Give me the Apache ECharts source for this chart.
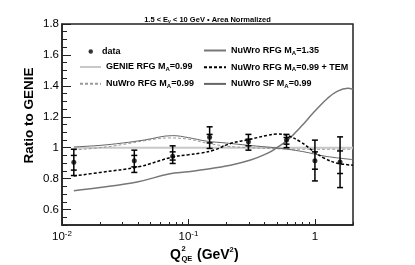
<!DOCTYPE html>
<html>
<head>
<meta charset="utf-8">
<script src="https://cdn.jsdelivr.net/npm/echarts@6/dist/echarts.min.js"></script>
<style>html,body{margin:0;padding:0;background:#fff}#c{width:415px;height:265px}</style>
</head>
<body>
<div id="c"></div>
<script>
// ---- data ----
var qData    = [0.0124, 0.0373, 0.075, 0.147, 0.298, 0.596, 1.0, 1.58];
var ratio    = [0.906, 0.915, 0.945, 1.068, 1.038, 1.049, 0.915, 0.908];
var totLow   = [0.82, 0.84, 0.898, 0.995, 0.984, 1.0, 0.785, 0.742];
var totHigh  = [0.99, 0.984, 1.012, 1.135, 1.086, 1.086, 1.049, 1.07];
var statLow  = [0.855, 0.876, 0.92, 1.031, 1.012, 1.023, 0.861, 0.833];
var statHigh = [0.95, 0.95, 0.973, 1.086, 1.055, 1.066, 0.973, 0.979];

var genieQ = [0.0124, 2.0];
var genieR = [1.0, 1.0];

var rfgQ = [0.0124, 0.02, 0.03, 0.045, 0.07, 0.1, 0.145, 0.2, 0.3, 0.5, 0.8, 1.2, 2.0];
var rfgR = [0.985, 1.0, 1.02, 1.045, 1.063, 1.055, 1.027, 1.01, 1.0, 0.993, 0.99, 0.99, 0.99];

var sfQ = [0.0124, 0.02, 0.03, 0.045, 0.075, 0.1, 0.14, 0.2, 0.3, 0.5, 0.8, 1.2, 2.0];
var sfR = [1.005, 1.015, 1.03, 1.05, 1.078, 1.065, 1.042, 1.03, 1.015, 0.998, 0.975, 0.945, 0.923];

var ma135Q = [0.0124, 0.02, 0.04, 0.07, 0.1, 0.1245, 0.215, 0.31, 0.42, 0.49, 0.607, 0.774, 0.987, 1.26, 1.51, 1.82, 2.0];
var ma135R = [0.722, 0.742, 0.78, 0.83, 0.844, 0.855, 0.887, 0.92, 0.963, 0.995, 1.049, 1.135, 1.232, 1.32, 1.366, 1.384, 1.377];

var temQ = [0.0124, 0.02, 0.04, 0.075, 0.1, 0.1245, 0.16, 0.215, 0.31, 0.42, 0.5, 0.6, 0.77, 0.98, 1.2, 1.5, 2.0];
var temR = [0.817, 0.84, 0.876, 0.94, 0.955, 0.965, 0.985, 1.027, 1.055, 1.08, 1.088, 1.08, 1.038, 0.975, 0.93, 0.9, 0.887];

var yMajor = [0.6, 0.8, 1.0, 1.2, 1.4, 1.6, 1.8];
var xMajor = [0.01, 0.1, 1];
var xMinor = [0.02,0.03,0.04,0.05,0.06,0.07,0.08,0.09,0.2,0.3,0.4,0.5,0.6,0.7,0.8,0.9,2];
var xLabels = {'0.01': '10{sup|-2}', '0.1': '10{sup|-1}', '1': '1'};

// ---- build ----
function pairs(xs, ys){ return xs.map(function(x,i){ return [x, ys[i]]; }); }
var errData = qData.map(function(q,i){ return [q, totLow[i], totHigh[i], statLow[i], statHigh[i]]; });

var FONT = 'Liberation Sans, Arial, Helvetica, sans-serif';
var legendText = {fontFamily: FONT, fontWeight: 'bold', fontSize: 9, color: '#000', lineHeight: 12,
  rich: {s: {fontFamily: FONT, fontWeight: 'bold', fontSize: 6, color: '#000', padding: [5, 0, 0, 0]}}};
function legendFmt(name){ return name.replace('M_A', 'M{s|A}'); }

var chart = echarts.init(document.getElementById('c'), null, {renderer: 'canvas'});
var grid = {left: 62, top: 24, width: 291, height: 201, show: true, borderColor: '#222', borderWidth: 1.5, backgroundColor: 'transparent'};

function xAxisBase(){
  return {type: 'log', logBase: 10, min: 0.01, max: 2, gridIndex: 0,
    axisLine: {show: false}, splitLine: {show: false}, minorTick: {show: false}};
}
var xa0 = xAxisBase();
xa0.axisTick = {show: true, inside: true, length: 6, lineStyle: {color: '#222', width: 1}, customValues: xMajor};
xa0.axisLabel = {show: true, customValues: xMajor, margin: 5, fontFamily: FONT, fontSize: 11.5, color: '#000', lineHeight: 14,
  formatter: function(v){ var k = String(+v.toPrecision(3)); return xLabels[k] !== undefined ? xLabels[k] : ''; },
  rich: {sup: {fontFamily: FONT, fontSize: 8, color: '#000', verticalAlign: 'top', lineHeight: 8, padding: [0,0,6,0]}}};
xa0.axisLine = {show: true, lineStyle: {color: '#222', width: 1.5}};
var xa1 = xAxisBase();
xa1.axisTick = {show: true, inside: true, length: 3, lineStyle: {color: '#222', width: 1}, customValues: xMinor};
xa1.axisLabel = {show: false};
xa1.position = 'bottom';

var ya0 = {type: 'value', min: 0.5, max: 1.8, interval: 0.05, gridIndex: 0,
  axisLine: {show: true, lineStyle: {color: '#222', width: 1.5}},
  axisTick: {show: true, inside: true, length: 5, lineStyle: {color: '#222', width: 1}},
  axisLabel: {show: false}, splitLine: {show: false},
  name: 'Ratio to GENIE', nameLocation: 'middle', nameRotate: 90, nameGap: 26,
  nameTextStyle: {fontFamily: FONT, fontWeight: 'bold', fontSize: 13.5, color: '#000', padding: [0,0,0,18]}};
var ya1 = {type: 'value', min: 0.5, max: 1.8, gridIndex: 0, position: 'left',
  axisLine: {show: false}, splitLine: {show: false},
  axisTick: {show: true, inside: true, length: 9, lineStyle: {color: '#222', width: 1}, customValues: yMajor},
  axisLabel: {show: true, customValues: yMajor, margin: 3, fontFamily: FONT, fontSize: 11.5, color: '#000',
    formatter: function(v){ return String(+v.toFixed(2)); }}};

var lineLegendBase = {orient: 'vertical', padding: 0, itemHeight: 8, itemGap: 4.7, textStyle: legendText,
  formatter: legendFmt, selectedMode: false, itemStyle: {opacity: 0}};

var option = {
  animation: false,
  backgroundColor: '#fff',
  title: {text: '1.5 < E{s|ν} < 10 GeV • Area Normalized', left: 'center', top: 10,
    textStyle: {fontFamily: FONT, fontWeight: 'bold', fontSize: 7.5, color: '#000', lineHeight: 9,
      rich: {s: {fontFamily: FONT, fontWeight: 'bold', fontSize: 5, color: '#000', padding: [4,0,0,0]}}}},
  grid: grid,
  xAxis: [xa0, xa1],
  yAxis: [ya0, ya1],
  legend: [
    {left: 88.5, top: 45.5, padding: 0, orient: 'vertical', itemWidth: 12.5, itemHeight: 4.5, data: [{name: 'data', icon: 'circle'}],
     textStyle: legendText, formatter: legendFmt, selectedMode: false},
    echarts.util.merge({left: 79, top: 61, itemWidth: 21, data: ['GENIE RFG M_A=0.99', 'NuWro RFG M_A=0.99']}, lineLegendBase),
    echarts.util.merge({left: 203, top: 44.5, itemWidth: 22, data: ['NuWro RFG M_A=1.35', 'NuWro RFG M_A=0.99 + TEM', 'NuWro SF M_A=0.99']}, lineLegendBase)
  ],
  graphic: [
    {type: 'group', left: 170, top: 245, children: [
      {type: 'text', x: 0, y: 4, style: {text: 'Q', fontFamily: FONT, fontWeight: 'bold', fontSize: 14, fill: '#000'}},
      {type: 'text', x: 11.5, y: 1, style: {text: '2', fontFamily: FONT, fontWeight: 'bold', fontSize: 7.5, fill: '#000'}},
      {type: 'text', x: 11.5, y: 11, style: {text: 'QE', fontFamily: FONT, fontWeight: 'bold', fontSize: 7.5, fill: '#000'}},
      {type: 'text', x: 27, y: 4, style: {text: '(GeV', fontFamily: FONT, fontWeight: 'bold', fontSize: 14, fill: '#000'}},
      {type: 'text', x: 59.5, y: 2, style: {text: '2', fontFamily: FONT, fontWeight: 'bold', fontSize: 7.5, fill: '#000'}},
      {type: 'text', x: 64, y: 4, style: {text: ')', fontFamily: FONT, fontWeight: 'bold', fontSize: 14, fill: '#000'}}
    ]}
  ],
  series: [
    {name: 'GENIE RFG M_A=0.99', type: 'line', data: pairs(genieQ, genieR), symbol: 'none', z: 2,
     lineStyle: {color: '#c8c8c8', width: 2}, itemStyle: {color: '#c8c8c8'}},
    {name: 'NuWro RFG M_A=0.99', type: 'line', data: pairs(rfgQ, rfgR), symbol: 'none', smooth: 0.4, z: 3,
     lineStyle: {color: '#999', width: 1, type: [3, 2]}, itemStyle: {color: '#999'}},
    {name: 'NuWro RFG M_A=1.35', type: 'line', data: pairs(ma135Q, ma135R), symbol: 'none', smooth: 0.4, z: 3,
     lineStyle: {color: '#777', width: 1.5}, itemStyle: {color: '#777'}},
    {name: 'NuWro RFG M_A=0.99 + TEM', type: 'line', data: pairs(temQ, temR), symbol: 'none', smooth: 0.4, z: 4,
     lineStyle: {color: '#000', width: 1.5, type: [3, 2]}, itemStyle: {color: '#000'}},
    {name: 'NuWro SF M_A=0.99', type: 'line', data: pairs(sfQ, sfR), symbol: 'none', smooth: 0.4, z: 3,
     lineStyle: {color: '#666', width: 1}, itemStyle: {color: '#666'}},
    {name: 'errors', type: 'custom', data: errData, z: 5, encode: {x: 0, y: [1, 2]},
     renderItem: function(params, api){
       var q = api.value(0);
       var lo = api.coord([q, api.value(1)]), hi = api.coord([q, api.value(2)]);
       var sl = api.coord([q, api.value(3)]), sh = api.coord([q, api.value(4)]);
       var x = lo[0], w = 3;
       var st = {stroke: '#000', lineWidth: 1.5};
       function hl(y){ return {type: 'line', shape: {x1: x - w, y1: y, x2: x + w, y2: y}, style: st}; }
       return {type: 'group', children: [
         {type: 'line', shape: {x1: x, y1: lo[1], x2: x, y2: hi[1]}, style: st},
         hl(lo[1]), hl(hi[1]), hl(sl[1]), hl(sh[1])
       ]};
     }},
    {name: 'data', type: 'scatter', data: pairs(qData, ratio), symbol: 'circle', symbolSize: 5, z: 6,
     itemStyle: {color: '#000'}}
  ]
};
chart.setOption(option);
</script>
</body>
</html>
